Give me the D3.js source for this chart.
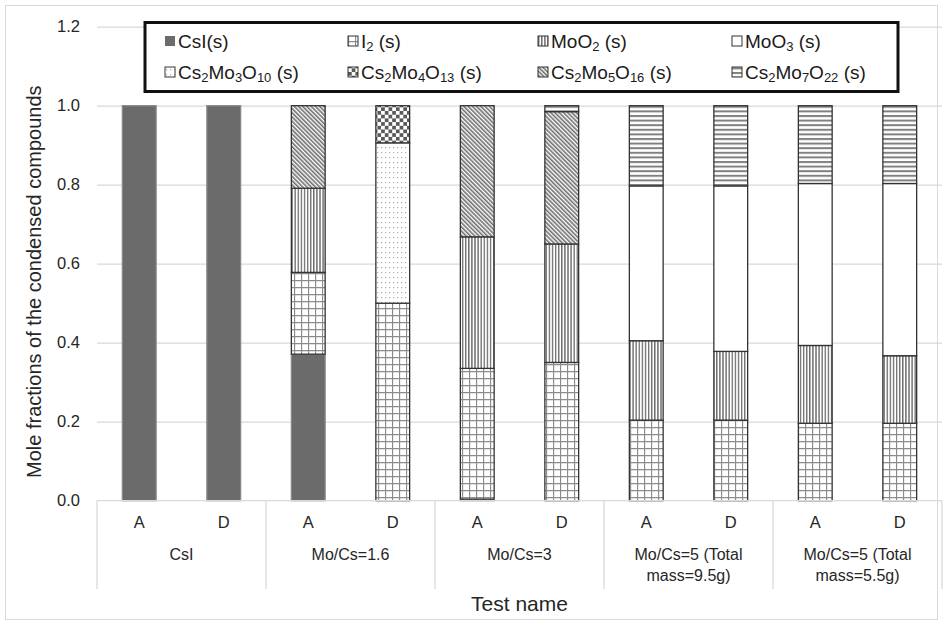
<!DOCTYPE html>
<html>
<head>
<meta charset="utf-8">
<script src="https://cdn.jsdelivr.net/npm/d3@7"></script>
<style>
  body { margin: 0; background: #fff; }
  svg { display: block; font-family: "Liberation Sans", Arial, sans-serif; }
</style>
</head>
<body>
<script>
// test groups (two-line labels) and runs in each group
const tests = [["CsI"], ["Mo/Cs=1.6"], ["Mo/Cs=3"], ["Mo/Cs=5 (Total", "mass=9.5g)"], ["Mo/Cs=5 (Total", "mass=5.5g)"]];
const runs = ["A", "D"];
const compounds = ["CsI(s)", "I2 (s)", "MoO2 (s)", "MoO3 (s)", "Cs2Mo3O10 (s)", "Cs2Mo4O13 (s)", "Cs2Mo5O16 (s)", "Cs2Mo7O22 (s)"];

// mole fractions per bar, bar order: CsI A, CsI D, 1.6 A, 1.6 D, 3 A, 3 D, 9.5g A, 9.5g D, 5.5g A, 5.5g D
const csI       = [1, 1, 0.371, 0, 0.004, 0, 0, 0, 0, 0];
const i2        = [0, 0, 0.207, 0.5, 0.331, 0.35, 0.204, 0.204, 0.196, 0.196];
const moO2      = [0, 0, 0.213, 0, 0.333, 0.30, 0.201, 0.174, 0.197, 0.171];
const moO3      = [0, 0, 0, 0, 0, 0, 0.392, 0.419, 0.410, 0.436];
const cs2Mo3O10 = [0, 0, 0, 0.406, 0, 0, 0, 0, 0, 0];
const cs2Mo4O13 = [0, 0, 0, 0.094, 0, 0, 0, 0, 0, 0];
const cs2Mo5O16 = [0, 0, 0.209, 0, 0.332, 0.335, 0, 0, 0, 0];
const cs2Mo7O22 = [0, 0, 0, 0, 0, 0.015, 0.203, 0.203, 0.197, 0.197];

const yTicks = [0, 0.2, 0.4, 0.6, 0.8, 1.0, 1.2];

const width = 944;
const height = 625;
const margin = { left: 97, right: 942, top: 26.7, bottom: 500.7 };

const svg = d3.select("body").append("svg")
  .attr("width", width)
  .attr("height", height);

// outer chart border
svg.append("rect")
  .attr("x", 5.5).attr("y", 5.5)
  .attr("width", 932).attr("height", 614)
  .attr("fill", "none")
  .attr("stroke", "#d9d9d9");

// patterns
const defs = svg.append("defs");

const grid = defs.append("pattern").attr("id", "p-grid")
  .attr("patternUnits", "userSpaceOnUse").attr("width", 7).attr("height", 7);
grid.append("rect").attr("width", 7).attr("height", 7).attr("fill", "#fff");
grid.append("path").attr("d", "M0.5,0V7M0,0.5H7").attr("stroke", "#8c8c8c").attr("stroke-width", 1.3);

const vert = defs.append("pattern").attr("id", "p-vert")
  .attr("patternUnits", "userSpaceOnUse").attr("width", 3.1).attr("height", 4);
vert.append("rect").attr("width", 3.1).attr("height", 4).attr("fill", "#fff");
vert.append("rect").attr("width", 1.4).attr("height", 4).attr("fill", "#707070");

const horiz = defs.append("pattern").attr("id", "p-horiz")
  .attr("patternUnits", "userSpaceOnUse").attr("width", 4).attr("height", 4.6);
horiz.append("rect").attr("width", 4).attr("height", 4.6).attr("fill", "#fff");
horiz.append("rect").attr("width", 4).attr("height", 2).attr("fill", "#808080");

const diag = defs.append("pattern").attr("id", "p-diag")
  .attr("patternUnits", "userSpaceOnUse").attr("width", 3).attr("height", 4)
  .attr("patternTransform", "rotate(-45)");
diag.append("rect").attr("width", 3).attr("height", 4).attr("fill", "#fff");
diag.append("rect").attr("width", 1.6).attr("height", 4).attr("fill", "#6e6e6e");

const check = defs.append("pattern").attr("id", "p-check")
  .attr("patternUnits", "userSpaceOnUse").attr("width", 7.4).attr("height", 7.4);
check.append("rect").attr("width", 7.4).attr("height", 7.4).attr("fill", "#fff");
check.append("rect").attr("width", 3.7).attr("height", 3.7).attr("fill", "#5a5a5a");
check.append("rect").attr("x", 3.7).attr("y", 3.7).attr("width", 3.7).attr("height", 3.7).attr("fill", "#5a5a5a");

const dots = defs.append("pattern").attr("id", "p-dots")
  .attr("patternUnits", "userSpaceOnUse").attr("width", 4).attr("height", 5);
dots.append("rect").attr("width", 4).attr("height", 5).attr("fill", "#fff");
dots.append("rect").attr("x", 1).attr("y", 2).attr("width", 1.2).attr("height", 1.2).attr("fill", "#aaa");

const fills = ["#6b6b6b", "url(#p-grid)", "url(#p-vert)", "#fff", "url(#p-dots)", "url(#p-check)", "url(#p-diag)", "url(#p-horiz)"];
const strokes = ["#8a8a8a", "#333", "#333", "#333", "#333", "#333", "#333", "#333"];

// data table
const series = [csI, i2, moO2, moO3, cs2Mo3O10, cs2Mo4O13, cs2Mo5O16, cs2Mo7O22];
const bars = tests.flatMap((t, i) => runs.map(r => ({ id: i + "-" + r, test: i, run: r })));
bars.forEach((b, j) => compounds.forEach((c, k) => { b[c] = series[k][j]; }));
const stacked = d3.stack().keys(compounds)(bars);

// scales
const x = d3.scaleBand()
  .domain(bars.map(b => b.id))
  .range([margin.left, margin.right])
  .paddingInner(0.6)
  .paddingOuter(0.3);

const xGroup = d3.scaleBand()
  .domain(d3.range(tests.length))
  .range([margin.left, margin.right]);

const y = d3.scaleLinear()
  .domain([0, 1.2])
  .range([margin.bottom, margin.top]);

// gridlines + y labels
const yAxis = d3.axisLeft(y)
  .tickValues(yTicks)
  .tickFormat(d3.format(".1f"))
  .tickSize(-(margin.right - margin.left))
  .tickPadding(17);

const yg = svg.append("g")
  .attr("transform", `translate(${margin.left},0)`)
  .call(yAxis);
yg.select(".domain").remove();
yg.selectAll(".tick line")
  .attr("stroke", "#d9d9d9")
  .attr("stroke-width", 1.3)
  .filter(d => d === 0).remove();
yg.selectAll(".tick text")
  .attr("font-size", 16.5)
  .attr("fill", "#262626")
  .attr("font-family", "Liberation Sans, Arial, sans-serif");

// bars
svg.append("g")
  .selectAll("g")
  .data(stacked)
  .join("g")
  .attr("fill", (d, i) => fills[i])
  .attr("stroke", (d, i) => strokes[i])
  .attr("stroke-width", 1.3)
  .selectAll("rect")
  .data(d => d.filter(s => s[1] - s[0] > 0))
  .join("rect")
  .attr("x", d => x(d.data.id))
  .attr("width", x.bandwidth())
  .attr("y", d => y(d[1]))
  .attr("height", d => y(d[0]) - y(d[1]));

// category axis (two tiers)
const cat = svg.append("g").attr("stroke", "#d9d9d9").attr("stroke-width", 1.3);
cat.append("line")
  .attr("x1", margin.left).attr("x2", margin.right)
  .attr("y1", margin.bottom).attr("y2", margin.bottom);
cat.selectAll(".div")
  .data(d3.range(tests.length + 1))
  .join("line")
  .attr("class", "div")
  .attr("x1", i => i < tests.length ? xGroup(i) : margin.right)
  .attr("x2", i => i < tests.length ? xGroup(i) : margin.right)
  .attr("y1", margin.bottom)
  .attr("y2", 589);

svg.append("g")
  .selectAll("text")
  .data(bars)
  .join("text")
  .attr("x", d => x(d.id) + x.bandwidth() / 2)
  .attr("y", 528)
  .attr("text-anchor", "middle")
  .attr("font-size", 16.5)
  .attr("fill", "#262626")
  .text(d => d.run);

svg.append("g")
  .selectAll("text")
  .data(tests)
  .join("text")
  .attr("x", (d, i) => xGroup(i) + xGroup.bandwidth() / 2)
  .attr("y", 560)
  .attr("text-anchor", "middle")
  .attr("font-size", 16)
  .attr("fill", "#262626")
  .selectAll("tspan")
  .data(d => d)
  .join("tspan")
  .attr("x", function () { return this.parentNode.getAttribute("x"); })
  .attr("dy", (d, i) => i === 0 ? 0 : 21)
  .text(d => d);

// axis titles
svg.append("text")
  .attr("x", (margin.left + margin.right) / 2)
  .attr("y", 611)
  .attr("text-anchor", "middle")
  .attr("font-size", 21)
  .attr("fill", "#262626")
  .text("Test name");

svg.append("text")
  .attr("transform", `translate(41,${(margin.top + margin.bottom) / 2 + 18}) rotate(-90)`)
  .attr("text-anchor", "middle")
  .attr("font-size", 20)
  .attr("fill", "#262626")
  .text("Mole fractions of the condensed compounds");

// legend
const legend = svg.append("g");
legend.append("rect")
  .attr("x", 145).attr("y", 22.5)
  .attr("width", 753).attr("height", 69)
  .attr("fill", "#fff")
  .attr("stroke", "#111")
  .attr("stroke-width", 3);

const colX = [165, 348, 538, 732];
const rowY = [41, 72];

const items = legend.selectAll(".item")
  .data(compounds)
  .join("g")
  .attr("class", "item")
  .attr("transform", (d, i) => `translate(${colX[i % 4]},${rowY[Math.floor(i / 4)]})`);

items.append("rect")
  .attr("x", 0).attr("y", -5)
  .attr("width", 10).attr("height", 10)
  .attr("fill", (d, i) => fills[i])
  .attr("stroke", (d, i) => i === 0 ? "none" : "#333")
  .attr("stroke-width", 1);

items.append("text")
  .attr("x", 13)
  .attr("y", 7)
  .attr("font-size", 19)
  .attr("fill", "#1a1a1a")
  .each(function (d) {
    const t = d3.select(this);
    d.split(/(\d+)/).filter(s => s.length).forEach(part => {
      const isSub = /^\d+$/.test(part);
      t.append("tspan")
        .attr("font-size", isSub ? 13 : 19)
        .attr("baseline-shift", isSub ? "-25%" : null)
        .text(part);
    });
  });
</script>
</body>
</html>
